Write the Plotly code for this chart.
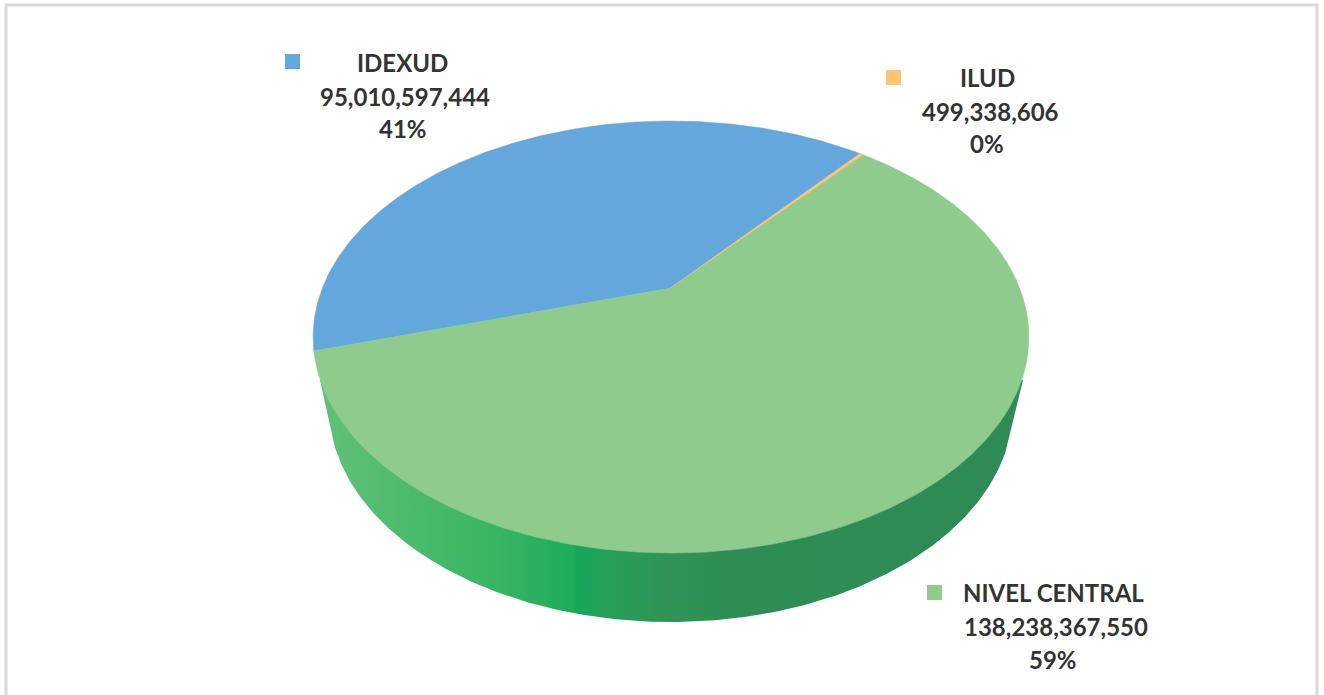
import numpy as np
import plotly.graph_objects as go

# ---- data ----
categories = ["IDEXUD", "ILUD", "NIVEL CENTRAL"]
values = [95010597444, 499338606, 138238367550]

# ---- styles / layout ----
colors = ["#64a7dd", "#fcc473", "#8ecb8d"]
FONT = "Lato"
TEXT = "#333333"
W, H = 1324, 695
START_DEG = 253.3
CX, CY = 671.0, 288.0          # projected centre of the pie
A, B, K = 348.6, 204.9, 0.2269  # perspective of the top disc
BASE_CY, BASE_A, BASE_B = 407.0, 342.0, 215.0
WALL_TOP_Y = 380.0
WALL_TOP_DX = (320.0 - CX, 1023.0 - CX)
wall_scale = [
    [0.00, "#62c07a"], [0.10, "#50bc6d"], [0.25, "#37b563"], [0.36, "#1fab5c"],
    [0.365, "#12a85a"], [0.41, "#279f58"], [0.50, "#2f9356"], [0.60, "#2e8c55"], [1.00, "#2e8b55"],
]
key_pos = [(292.5, 61.5), (893.5, 77.5), (934.5, 592.5)]
label_pos = [
    [(402, 62), (405, 96), (403, 128)],
    [(987, 77), (990, 111), (987, 143)],
    [(1053, 592), (1056, 626), (1053, 659)],
]


def project(deg):
    t = np.radians(deg)
    u, v = np.sin(t), np.cos(t)
    d = 1 + K * v
    return CX + A * u / d, CY - B * v / d


fig = go.Figure()

# side wall with horizontal gradient
t = np.radians(np.linspace(100, 260, 241))
bx = CX + BASE_A * np.sin(t)
by = BASE_CY - BASE_B * np.cos(t)
wx = np.concatenate([[CX + WALL_TOP_DX[1]], bx, [CX + WALL_TOP_DX[0]]])
wy = np.concatenate([[WALL_TOP_Y], by, [WALL_TOP_Y]])
fig.add_trace(go.Scatter(
    x=wx, y=wy, mode="lines", line=dict(width=0), fill="toself",
    fillgradient=dict(type="horizontal", colorscale=wall_scale),
    hoverinfo="skip", showlegend=False,
))

# top disc wedges, drawn from the values
total = sum(values)
angle = START_DEG
for name, val, col in zip(categories, values, colors):
    sweep = 360.0 * val / total
    deg = np.linspace(angle, angle + sweep, max(3, int(sweep * 2)))
    px, py = project(deg)
    thin = sweep < 2
    fig.add_trace(go.Scatter(
        x=np.concatenate([[CX], px, [CX]]),
        y=np.concatenate([[CY], py, [CY]]),
        mode="lines", fill="toself", fillcolor=col,
        line=dict(color=col, width=1.2 if thin else 0.5),
        name=name, hoverinfo="name", showlegend=False,
    ))
    angle += sweep

# legend keys + labels
for name, val, col, key, pos in zip(categories, values, colors, key_pos, label_pos):
    fig.add_trace(go.Scatter(
        x=[key[0]], y=[key[1]], mode="markers",
        marker=dict(symbol="square", size=15, color=col, line=dict(width=0)),
        hoverinfo="skip", showlegend=False,
    ))
    lines = [name, f"{val:,}", f"{round(100 * val / total)}%"]
    for txt, (lx, ly) in zip(lines, pos):
        fig.add_annotation(
            x=lx, y=ly, text=f"<b>{txt}</b>", showarrow=False,
            xanchor="center", yanchor="middle",
            font=dict(family=FONT, size=24, color=TEXT),
        )

# outer frame (open at the bottom)
fig.add_shape(type="path", path=f"M 6 {H} L 6 5 L 1317 5 L 1317 {H}",
              line=dict(color="#d9d9d9", width=3), xref="x", yref="y", layer="below")

fig.update_layout(
    width=W, height=H, margin=dict(l=0, r=0, t=0, b=0),
    paper_bgcolor="white", plot_bgcolor="white", showlegend=False,
    xaxis=dict(range=[0, W], visible=False, fixedrange=True),
    yaxis=dict(range=[H, 0], visible=False, fixedrange=True),
)
fig.write_html("out.html", config={"displayModeBar": False},
               post_script="document.body.style.margin='0';document.body.style.overflow='hidden';")
